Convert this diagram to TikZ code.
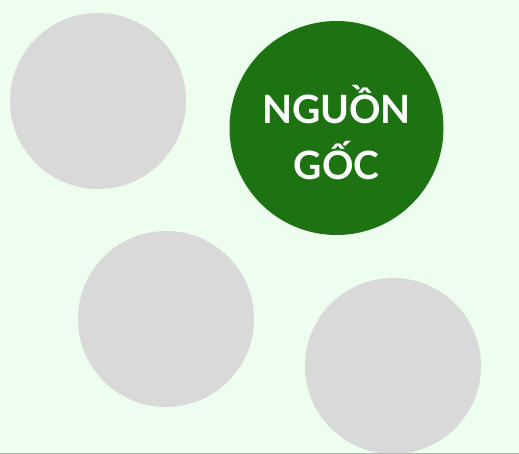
\documentclass[tikz,border=0pt]{standalone}
\usepackage{fontspec}
\newfontfamily\labelfont{Lato}
\usetikzlibrary{positioning}
\definecolor{mintbg}{HTML}{EDFDEE}
\definecolor{blobgrey}{HTML}{D9D9D9}
\definecolor{rootgreen}{HTML}{1D7311}
\definecolor{edgegrey}{HTML}{A9B8AA}
\tikzset{
  blob/.style={circle, fill=blobgrey, minimum size=176pt, inner sep=0pt},
  root/.style={circle, fill=rootgreen, minimum size=214pt, inner sep=0pt},
  rootlabel/.style={text=white, font=\labelfont\bfseries\fontsize{39}{56}\selectfont, align=center},
}
\begin{document}
\begin{tikzpicture}[x=1pt, y=-1pt]
    \fill[mintbg] (0,0) rectangle (519,454);
    \useasboundingbox (0,0) rectangle (519,454);
    \begin{scope}
      \clip (0,0) rectangle (519,454);
      \node[blob] (b1) at (98,101) {};
      \node[blob] (b2) at (166,319) {};
      \node[blob] (b3) at (393,366) {};
      \node[root] (src) at (336.5,128) {};
      \node[rootlabel] (srctext) at ([yshift=-5pt]src.center) {NGUỒN\\GỐC};
    \end{scope}
    \draw[edgegrey, line width=1.2pt] (0,453.4) -- (519,453.4);
  \end{tikzpicture}
\end{document}
